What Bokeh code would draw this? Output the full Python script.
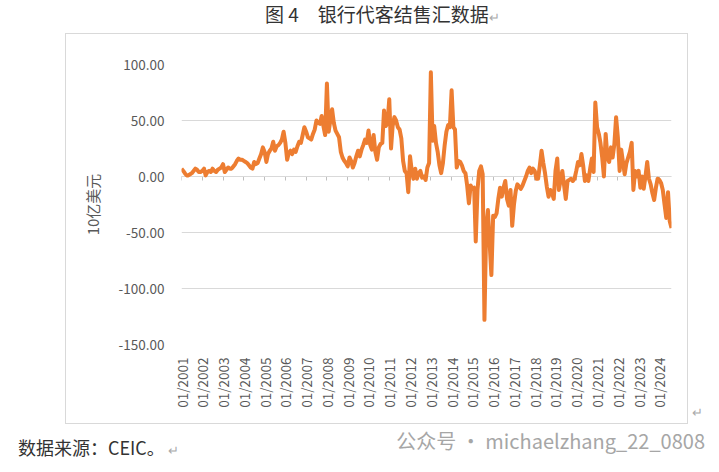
import math
import pandas as pd
from bokeh.plotting import figure
from bokeh.layouts import column, row
from bokeh.models import (ColumnDataSource, DatetimeAxis, FixedTicker, NumeralTickFormatter,
                          DatetimeTickFormatter, CustomJSTickFormatter, Range1d, Div)
from bokeh.embed import file_html
from bokeh.resources import INLINE

# ---------------- data ----------------
start_month = "2001-01-01"
# 银行代客结售汇差额, 10亿美元, monthly 2001-01 .. 2024-08
net_fx = [
    7, 5, 3, 1, 1, 2, 3, 5, 7, 6, 4, 4,                 # 2001
    5, 7, 1, 4, 5, 4, 7, 5, 4, 6, 7, 8,                 # 2002
    11, 4, 6, 8, 7, 7, 9, 11, 14, 16, 15, 15,           # 2003
    14, 13, 12, 10, 8, 7, 13, 11, 12, 16, 20, 26,       # 2004
    22, 13, 20, 23, 25, 31, 23, 27, 28, 30, 33, 40,     # 2005
    30, 15, 21, 23, 20, 24, 22, 27, 31, 30, 37, 44,     # 2006
    40, 35, 34, 33, 38, 42, 50, 48, 47, 54, 45, 37,     # 2007
    83, 40, 50, 60, 48, 41, 38, 35, 22, 17, 14, 12,     # 2008
    9, 17, 14, 8, 12, 18, 23, 18, 24, 28, 33, 30,       # 2009
    41, 28, 24, 37, 22, 15, 26, 29, 30, 59, 45, 48,     # 2010
    69, 25, 45, 53, 50, 44, 42, 34, 14, 5, 3, -14,      # 2011
    18, 5, -2, 7, -2, 3, 5, -1, 0, -3, 8, 12,           # 2012
    93, 32, 45, 30, 22, 10, 3, 12, 28, 40, 46, 44,      # 2013
    77, 44, 42, 8, 14, 13, 10, 5, 3, -8, -24, -8,       # 2014
    -11, -10, -58, -12, 5, 9, 2, -128, -45, -30, -60, -88,  # 2015
    -35, -36, -33, -20, -10, -18, -10, -4, -20, -26, -12, -44,  # 2016
    -25, -13, -7, -9, -11, -8, -4, 0, 5, 8, 3, 7,       # 2017
    5, -2, -2, 10, 23, 12, 3, -9, -18, -12, -15, -20,   # 2018
    5, 16, -12, -3, 5, -8, -20, -4, -3, -2, -4, -2,     # 2019
    5, 13, 10, 20, 10, -4, 1, -4, 7, 16, 4, 66,         # 2020
    44, 38, 30, 17, 0, 38, 17, 13, 26, 17, 29, 53,      # 2021
    35, 5, 24, 13, 2, 12, 17, 22, 30, -12, 5, 0,        # 2022
    5, -10, 0, -11, 0, 13, -2, -7, -15, -21, -10, -2,   # 2023
    -3, -6, -12, -25, -37, -14, -40, -46,               # 2024
]
y_ticks = [-150, -100, -50, 0, 50, 100]
tick_years = list(range(2001, 2025))

title_text = "图 4　银行代客结售汇数据"
y_label = "10亿美元"
source_text = "数据来源：CEIC。"
watermark_text = "公众号 · michaelzhang_22_0808"

# ---------------- build ----------------
months = pd.date_range(start_month, periods=len(net_fx), freq="MS")
src = ColumnDataSource(dict(month=months, v=net_fx))
tick_ms = [pd.Timestamp(f"{y}-01-01").value / 1e6 for y in tick_years]

FONT = "Noto Sans CJK SC"
GRAY = "#595959"

p = figure(width=623, height=391, x_axis_type="datetime",
           output_backend="svg", toolbar_location=None,
           x_range=Range1d(months[0], months[-1]), y_range=Range1d(-150, 100),
           min_border_left=115, min_border_right=18, min_border_top=30, min_border_bottom=81,
           margin=(0, 0, 0, 65))
p.styles = {"border": "1px solid #d9d9d9"}
p.outline_line_color = None
p.background_fill_color = "white"
p.border_fill_color = "white"

p.line("month", "v", source=src, line_color="#ED7D31", line_width=4, line_join="round")

# y axis
p.yaxis.ticker = FixedTicker(ticks=y_ticks)
p.yaxis.formatter = NumeralTickFormatter(format="0.00")
p.yaxis.axis_line_color = None
p.yaxis.major_tick_line_color = None
p.yaxis.minor_tick_line_color = None
p.yaxis.major_label_text_font = FONT
p.yaxis.major_label_text_font_size = "13.5px"
p.yaxis.major_label_text_color = GRAY
p.yaxis.major_label_standoff = 11
p.yaxis.axis_label = y_label
p.yaxis.axis_label_text_font = FONT
p.yaxis.axis_label_text_font_size = "15px"
p.yaxis.axis_label_text_font_style = "normal"
p.yaxis.axis_label_text_color = GRAY
p.yaxis.axis_label_standoff = 13
p.ygrid.grid_line_color = "#d9d9d9"
p.ygrid.grid_line_width = 1
p.xgrid.grid_line_color = None

# x axis (labels at bottom)
fmt = "%m/%Y"
p.xaxis.ticker = FixedTicker(ticks=tick_ms)
p.xaxis.formatter = DatetimeTickFormatter(years=fmt, months=fmt, days=fmt, hours=fmt,
                                          minutes=fmt, seconds=fmt, milliseconds=fmt,
                                          microseconds=fmt, hourmin=fmt, minsec=fmt)
p.xaxis.major_label_orientation = math.pi / 2
p.xaxis.axis_line_color = None
p.xaxis.major_tick_line_color = None
p.xaxis.minor_tick_line_color = None
p.xaxis.major_label_text_font = FONT
p.xaxis.major_label_text_font_size = "13.5px"
p.xaxis.major_label_text_color = GRAY
p.xaxis.major_label_standoff = 7

# tick marks on the zero line
zero_axis = DatetimeAxis(fixed_location=0, ticker=FixedTicker(ticks=tick_ms),
                         formatter=CustomJSTickFormatter(code="return ''"),
                         axis_line_color="#bfbfbf", major_tick_line_color="#bfbfbf",
                         major_tick_in=0, major_tick_out=4, minor_tick_line_color=None,
                         level="underlay")
p.add_layout(zero_axis, "below")

# ---------------- surrounding texts ----------------
title_div = Div(width=719, height=33, margin=(0, 0, 0, 0), text=(
    "<div style='position:relative;width:719px;height:33px;'>"
    f"<span style=\"position:absolute;left:265px;top:0px;line-height:28px;"
    f"font-family:'{FONT}';font-size:19px;color:#333;white-space:nowrap;\">{title_text}"
    "<span style='color:#aaa;font-size:13px;'>↵</span></span></div>"))

arrow_div = Div(width=31, height=391, margin=(0, 0, 0, 0), text=(
    "<div style='position:relative;width:31px;height:391px;'>"
    f"<span style=\"position:absolute;left:4px;top:370px;line-height:18px;"
    f"font-family:'{FONT}';font-size:13px;color:#aaa;\">↵</span></div>"))

footer_div = Div(width=719, height=46, margin=(0, 0, 0, 0), text=(
    "<div style='position:relative;width:719px;height:46px;'>"
    f"<span style=\"position:absolute;left:18px;top:10px;line-height:26px;"
    f"font-family:'{FONT}';font-size:18px;color:#333;white-space:nowrap;\">{source_text}"
    "<span style='color:#aaa;font-size:13px;'> ↵</span></span>"
    f"<span style=\"position:absolute;right:14px;top:3px;line-height:28px;"
    f"font-family:'{FONT}';font-size:20px;color:#a6a6a6;white-space:nowrap;\">{watermark_text}</span>"
    "</div>"))

layout = column(title_div, row(p, arrow_div, spacing=0), footer_div, spacing=0)

open("out.html", "w").write(file_html(layout, INLINE))
